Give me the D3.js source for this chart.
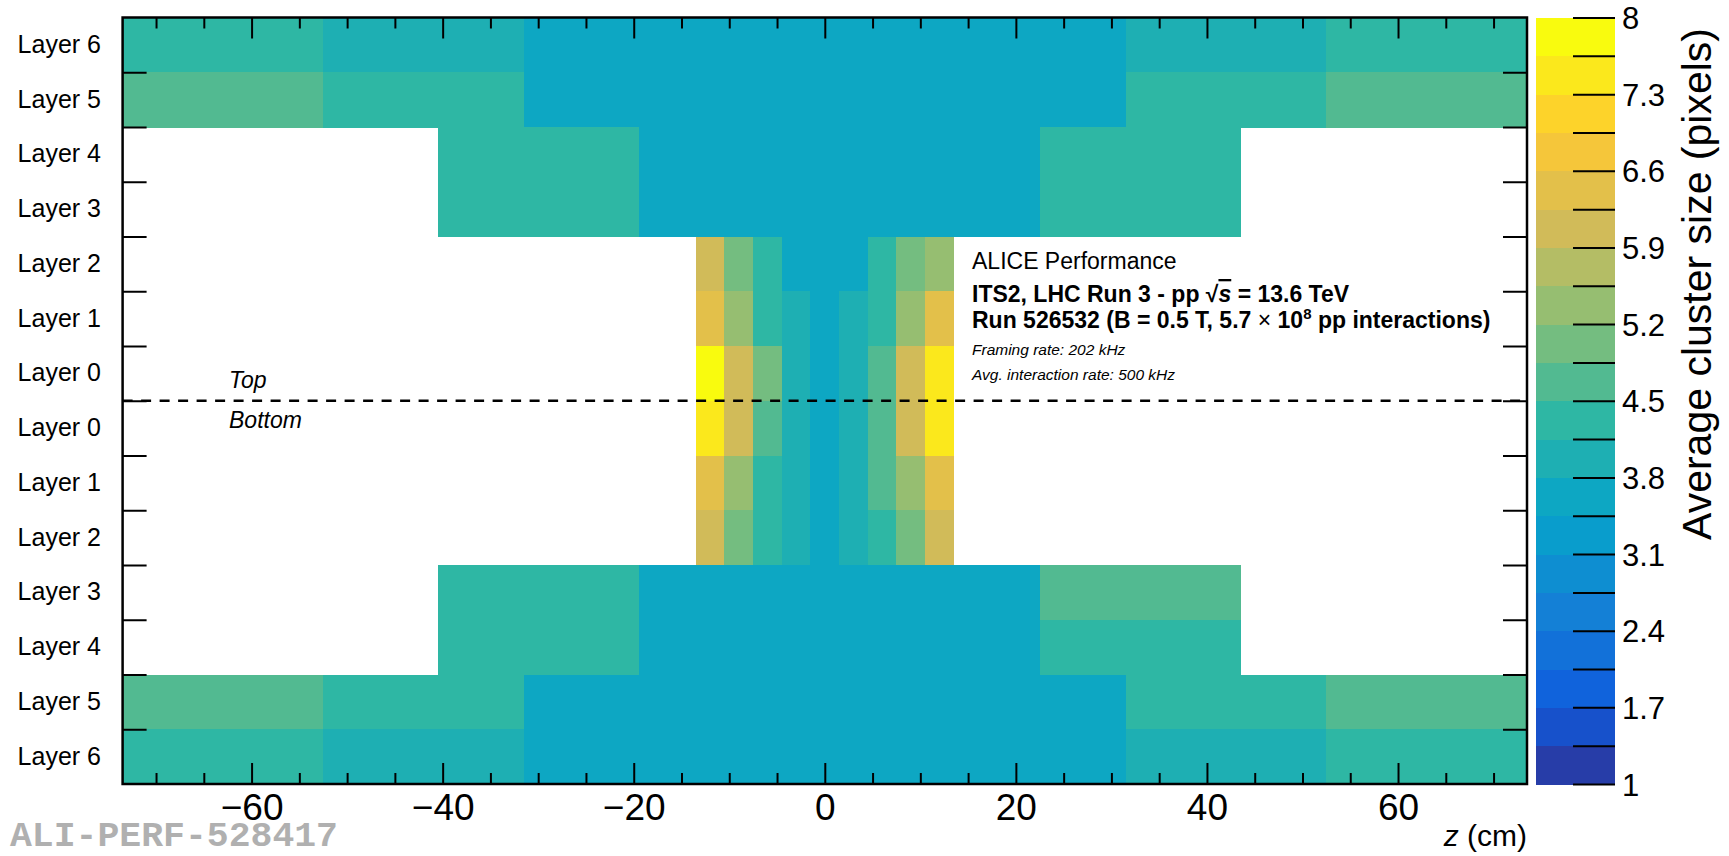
<!DOCTYPE html>
<html lang="en">
<head>
    <meta charset="UTF-8">
    <title>ITS2 average cluster size</title>
    <script src="https://d3js.org/d3.v7.min.js"></script>
    <style>
        body { margin: 0; background: #fff; }
        svg { display: block; font-family: "Liberation Sans", Arial, Helvetica, sans-serif; }
        .axis path { display: none; }
        .axis line { stroke: #000; stroke-width: 2px; }
        .frame { fill: none; stroke: #000; stroke-width: 2.5px; }
        .cells rect, .bar rect { shape-rendering: crispEdges; }
    </style>
</head>
<body>
    <svg width="1729" height="856"></svg>

    <script>
        // rows from top to bottom (top half, then bottom half)
        const layers = ["Layer 6", "Layer 5", "Layer 4", "Layer 3", "Layer 2", "Layer 1", "Layer 0",
                        "Layer 0", "Layer 1", "Layer 2", "Layer 3", "Layer 4", "Layer 5", "Layer 6"];

        // z bin edges (cm)
        const outerEdges  = [-73.5, -52.5, -31.5, -10.5, 10.5, 31.5, 52.5, 73.5];
        const middleEdges = [-40.5, -19.5, 1.5, 22.5, 43.5];
        const innerEdges  = [-13.5, -10.5, -7.5, -4.5, -1.5, 1.5, 4.5, 7.5, 10.5, 13.5];

        // average cluster size per bin (pixels)
        const topL6 = [4.3, 4.0, 3.6, 3.6, 3.6, 4.0, 4.3];
        const topL5 = [4.7, 4.3, 3.6, 3.6, 3.6, 4.3, 4.7];
        const topL4 = [4.3, 3.6, 3.6, 4.3];
        const topL3 = [4.3, 3.6, 3.6, 4.3];
        const topL2 = [6.1, 5.0, 4.3, 3.6, 3.6, 3.6, 4.3, 5.0, 5.4];
        const topL1 = [6.4, 5.4, 4.3, 4.0, 3.6, 4.0, 4.3, 5.4, 6.4];
        const topL0 = [7.8, 6.1, 5.0, 4.0, 3.6, 4.0, 4.7, 6.1, 7.5];
        const botL0 = [7.5, 6.1, 4.7, 4.0, 3.6, 4.0, 4.7, 6.1, 7.5];
        const botL1 = [6.4, 5.4, 4.3, 4.0, 3.6, 4.0, 4.7, 5.4, 6.4];
        const botL2 = [6.1, 5.0, 4.3, 4.0, 3.6, 4.0, 4.3, 5.0, 6.1];
        const botL3 = [4.3, 3.6, 3.6, 4.7];
        const botL4 = [4.3, 3.6, 3.6, 4.3];
        const botL5 = [4.7, 4.3, 3.6, 3.6, 3.6, 4.3, 4.7];
        const botL6 = [4.3, 4.0, 3.6, 3.6, 3.6, 4.0, 4.3];

        const rowEdges  = [outerEdges, outerEdges, middleEdges, middleEdges, innerEdges, innerEdges, innerEdges,
                           innerEdges, innerEdges, innerEdges, middleEdges, middleEdges, outerEdges, outerEdges];
        const rowValues = [topL6, topL5, topL4, topL3, topL2, topL1, topL0,
                           botL0, botL1, botL2, botL3, botL4, botL5, botL6];

        // axis ticks
        const zMajor = [-60, -40, -20, 0, 20, 40, 60];
        const zMinor = d3.range(-70, 71, 5).filter(v => v % 20 !== 0);
        const zRange = [-73.5, 73.5];
        const cMin = 1, cMax = 8, nContours = 20;

        // ROOT "bird" palette
        const birdStops = [0.0, 0.125, 0.25, 0.375, 0.5, 0.625, 0.75, 0.875, 1.0];
        const birdR = [0.2082, 0.0592, 0.0780, 0.0232, 0.1802, 0.5301, 0.8186, 0.9956, 0.9764];
        const birdG = [0.1664, 0.3599, 0.5041, 0.6419, 0.7178, 0.7492, 0.7328, 0.7862, 0.9832];
        const birdB = [0.5293, 0.8684, 0.8385, 0.7914, 0.6425, 0.4662, 0.3499, 0.1968, 0.0539];

        const bird = d3.scaleLinear()
            .domain(birdStops)
            .range(birdStops.map((s, i) => d3.rgb(birdR[i] * 255, birdG[i] * 255, birdB[i] * 255)))
            .interpolate(d3.interpolateRgb);

        const bandColors = d3.range(nContours).map(i => bird(Math.floor((i + 0.99) * 255 / nContours) / 254));
        const color = d3.scaleQuantize().domain([cMin, cMax]).range(bandColors);

        // layout
        const plot = { left: 122.6, right: 1527, top: 17.5, bottom: 784 };
        const bar = { left: 1536, right: 1615 };

        const svg = d3.select("svg");

        const x = d3.scaleLinear().domain(zRange).range([plot.left, plot.right]);
        const y = d3.scaleLinear().domain([0, layers.length]).range([plot.top, plot.bottom]);
        const yBand = d3.scaleBand().domain(d3.range(layers.length)).range([plot.top, plot.bottom]);

        // cells
        const cells = [];
        rowValues.forEach((vals, r) => {
            vals.forEach((v, i) => {
                cells.push({ row: r, z0: rowEdges[r][i], z1: rowEdges[r][i + 1], value: v });
            });
        });

        svg.append("g").attr("class", "cells")
            .selectAll("rect")
            .data(cells)
            .enter()
            .append("rect")
            .attr("x", d => x(d.z0))
            .attr("y", d => y(d.row))
            .attr("width", d => x(d.z1) - x(d.z0) + 0.6)
            .attr("height", d => y(d.row + 1) - y(d.row) + 0.6)
            .attr("fill", d => color(d.value));

        // x axes (ticks pointing into the frame)
        const xBottom = svg.append("g").attr("class", "axis").attr("transform", `translate(0,${plot.bottom})`);
        xBottom.call(d3.axisBottom(x).tickValues(zMajor).tickSize(-21).tickPadding(10));
        xBottom.selectAll("text").attr("font-size", 37).attr("fill", "#000").attr("font-family", "Liberation Sans, Arial, sans-serif");
        svg.append("g").attr("class", "axis").attr("transform", `translate(0,${plot.bottom})`)
            .call(d3.axisBottom(x).tickValues(zMinor).tickSize(-11).tickFormat(""));
        svg.append("g").attr("class", "axis").attr("transform", `translate(0,${plot.top})`)
            .call(d3.axisTop(x).tickValues(zMajor).tickSize(-21).tickFormat(""));
        svg.append("g").attr("class", "axis").attr("transform", `translate(0,${plot.top})`)
            .call(d3.axisTop(x).tickValues(zMinor).tickSize(-11).tickFormat(""));

        // y axes: ticks at row boundaries
        const rowBounds = d3.range(1, layers.length);
        svg.append("g").attr("class", "axis").attr("transform", `translate(${plot.left},0)`)
            .call(d3.axisLeft(y).tickValues(rowBounds).tickSize(-24).tickFormat(""));
        svg.append("g").attr("class", "axis").attr("transform", `translate(${plot.right},0)`)
            .call(d3.axisRight(y).tickValues(rowBounds).tickSize(-24).tickFormat(""));

        // layer labels
        svg.append("g")
            .selectAll("text")
            .data(layers)
            .enter()
            .append("text")
            .attr("x", 101)
            .attr("y", (d, i) => yBand(i) + yBand.bandwidth() / 2 + 8)
            .attr("text-anchor", "end")
            .attr("font-size", 25)
            .text(d => d);

        // frame
        svg.append("rect").attr("class", "frame")
            .attr("x", plot.left).attr("y", plot.top)
            .attr("width", plot.right - plot.left).attr("height", plot.bottom - plot.top);

        // top / bottom separator
        svg.append("line")
            .attr("x1", plot.left).attr("x2", plot.right)
            .attr("y1", y(7)).attr("y2", y(7))
            .attr("stroke", "#000").attr("stroke-width", 2.5)
            .attr("stroke-dasharray", "10,8.5");

        svg.append("text").attr("x", 229).attr("y", 388)
            .attr("font-size", 23).attr("font-style", "italic").text("Top");
        svg.append("text").attr("x", 229).attr("y", 428)
            .attr("font-size", 23).attr("font-style", "italic").text("Bottom");

        // axis title
        const zt = svg.append("text").attr("x", plot.right).attr("y", 846)
            .attr("text-anchor", "end").attr("font-size", 30);
        zt.append("tspan").attr("font-style", "italic").text("z");
        zt.append("tspan").text(" (cm)");

        // colour bar
        const c = d3.scaleLinear().domain([cMin, cMax]).range([plot.bottom, plot.top]);
        const step = (cMax - cMin) / nContours;
        svg.append("g").attr("class", "bar")
            .selectAll("rect")
            .data(bandColors)
            .enter()
            .append("rect")
            .attr("x", bar.left)
            .attr("y", (d, i) => c(cMin + (i + 1) * step))
            .attr("width", bar.right - bar.left)
            .attr("height", (d, i) => c(cMin + i * step) - c(cMin + (i + 1) * step) + 0.6)
            .attr("fill", d => d);

        const cTicks = d3.range(nContours + 1).map(i => +(cMin + i * step).toFixed(2));
        const cAxis = svg.append("g").attr("class", "axis").attr("transform", `translate(${bar.right},0)`)
            .call(d3.axisRight(c).tickValues(cTicks).tickSize(-42).tickPadding(7)
                .tickFormat((d, i) => i % 2 === 0 ? d3.format("~g")(d) : ""));
        cAxis.selectAll("text").attr("font-size", 31).attr("fill", "#000")
            .attr("font-family", "Liberation Sans, Arial, sans-serif").attr("dy", "0.36em");

        svg.append("text")
            .attr("transform", "translate(1711,28) rotate(-90)")
            .attr("text-anchor", "end")
            .attr("font-size", 41)
            .text("Average cluster size (pixels)");

        // ALICE labels
        const tx = 972;
        svg.append("text").attr("x", tx).attr("y", 269).attr("font-size", 23).text("ALICE Performance");

        const l2 = svg.append("text").attr("x", tx).attr("y", 302).attr("font-size", 23).attr("font-weight", "bold");
        l2.append("tspan").text("ITS2, LHC Run 3 - pp  √");
        l2.append("tspan").attr("font-style", "italic").attr("text-decoration", "overline").text("s");
        l2.append("tspan").text(" = 13.6 TeV");

        const l3 = svg.append("text").attr("x", tx).attr("y", 328).attr("font-size", 23).attr("font-weight", "bold");
        l3.append("tspan").text("Run 526532 (B = 0.5 T, 5.7 ");
        l3.append("tspan").attr("font-weight", "normal").text("×");
        l3.append("tspan").text(" 10");
        l3.append("tspan").attr("font-size", 15).attr("dy", -9).text("8");
        l3.append("tspan").attr("dy", 9).text(" pp interactions)");

        svg.append("text").attr("x", tx).attr("y", 355).attr("font-size", 15.5).attr("font-style", "italic")
            .text("Framing rate: 202 kHz");
        svg.append("text").attr("x", tx).attr("y", 380).attr("font-size", 15.5).attr("font-style", "italic")
            .text("Avg. interaction rate: 500 kHz");

        // watermark
        svg.append("text").attr("x", 10).attr("y", 846)
            .attr("font-family", "Liberation Mono, Courier New, monospace")
            .attr("font-weight", "bold").attr("font-size", 35).attr("fill", "#b0b0b0")
            .attr("textLength", 328).attr("lengthAdjust", "spacingAndGlyphs")
            .text("ALI-PERF-528417");
    </script>
</body>
</html>
